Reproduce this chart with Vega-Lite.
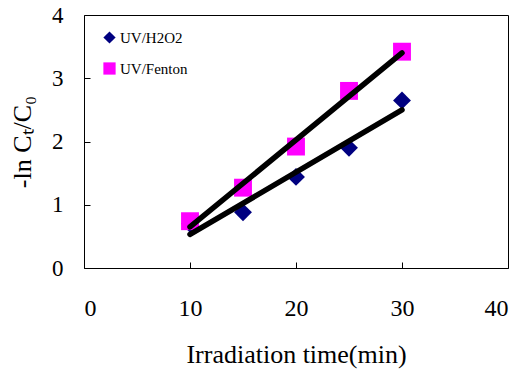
{
  "$schema": "https://vega.github.io/schema/vega-lite/v6.json",
  "autosize": {"type": "none"},
  "width": 424,
  "height": 253,
  "padding": {"left": 84, "top": 15, "right": 17, "bottom": 102},
  "background": "white",
  "config": {
    "font": "Liberation Serif",
    "view": {"stroke": "black", "strokeWidth": 1},
    "axis": {"grid": false, "domain": false, "labelColor": "black", "titleColor": "black", "tickColor": "black", "labelFont": "Liberation Serif", "titleFont": "Liberation Serif", "titleFontWeight": "normal"}
  },
  "datasets": {
    "points": [
      {"series": "UV/H2O2", "time": 10, "value": 0.70},
      {"series": "UV/H2O2", "time": 15, "value": 0.88},
      {"series": "UV/H2O2", "time": 20, "value": 1.44},
      {"series": "UV/H2O2", "time": 25, "value": 1.90},
      {"series": "UV/H2O2", "time": 30, "value": 2.65},
      {"series": "UV/Fenton", "time": 10, "value": 0.74},
      {"series": "UV/Fenton", "time": 15, "value": 1.27},
      {"series": "UV/Fenton", "time": 20, "value": 1.92},
      {"series": "UV/Fenton", "time": 25, "value": 2.80},
      {"series": "UV/Fenton", "time": 30, "value": 3.42}
    ],
    "fits": [
      {"fit": "UV/H2O2", "time": 10, "value": 0.53},
      {"fit": "UV/H2O2", "time": 30, "value": 2.50},
      {"fit": "UV/Fenton", "time": 10, "value": 0.65},
      {"fit": "UV/Fenton", "time": 30, "value": 3.40}
    ]
  },
  "layer": [
    {
      "data": {"name": "points"},
      "mark": {"type": "point", "filled": true, "opacity": 1, "size": 320},
      "encoding": {
        "x": {"field": "time", "type": "quantitative", "scale": {"domain": [0, 40], "nice": false}, "axis": {"values": [0, 10, 20, 30, 40], "format": "d", "tickSize": -6, "labelFontSize": 24, "labelPadding": 34, "title": "Irradiation time(min)", "titleFontSize": 26, "titlePadding": 21}},
        "y": {"field": "value", "type": "quantitative", "scale": {"domain": [0, 4], "nice": false}, "axis": {"values": [0, 1, 2, 3, 4], "format": "d", "tickSize": -6, "labelFontSize": 23, "labelPadding": 27, "title": "-ln Cₜ/C₀", "titleFontSize": 26, "titlePadding": 16}},
        "color": {"field": "series", "type": "nominal", "sort": ["UV/H2O2", "UV/Fenton"], "scale": {"domain": ["UV/H2O2", "UV/Fenton"], "range": ["#000080", "#FF00FF"]}, "legend": {"orient": "none", "legendX": 18, "legendY": 15, "title": null, "labelFont": "Liberation Serif", "labelFontSize": 15, "labelColor": "black", "symbolSize": 150, "symbolOpacity": 1, "rowPadding": 15, "labelOffset": 3}},
        "shape": {"field": "series", "type": "nominal", "sort": ["UV/H2O2", "UV/Fenton"], "scale": {"domain": ["UV/H2O2", "UV/Fenton"], "range": ["diamond", "square"]}, "legend": null},
        "order": {"field": "series", "sort": "descending"}
      }
    },
    {
      "data": {"name": "fits"},
      "mark": {"type": "line", "color": "black", "strokeWidth": 5.5, "strokeCap": "round"},
      "encoding": {
        "x": {"field": "time", "type": "quantitative"},
        "y": {"field": "value", "type": "quantitative"},
        "detail": {"field": "fit", "type": "nominal"}
      }
    }
  ]
}
